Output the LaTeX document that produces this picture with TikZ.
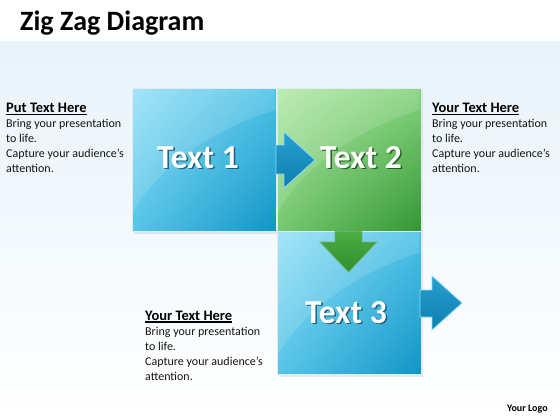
\documentclass[tikz,border=0pt]{standalone}
\usepackage{fontspec}
\setmainfont{Carlito}
\usetikzlibrary{shadings}
\definecolor{bgtop}{RGB}{232,243,250}
\definecolor{bUL}{RGB}{150,225,247}
\definecolor{bUR}{RGB}{75,192,230}
\definecolor{bLL}{RGB}{85,197,232}
\definecolor{bLR}{RGB}{18,148,198}
\definecolor{gUL}{RGB}{180,233,170}
\definecolor{gUR}{RGB}{130,210,122}
\definecolor{gLL}{RGB}{118,200,110}
\definecolor{gLR}{RGB}{50,150,50}
\definecolor{edge}{RGB}{225,236,240}
\definecolor{arBlueT}{RGB}{38,160,208}
\definecolor{arBlueB}{RGB}{14,126,176}
\definecolor{arGreenT}{RGB}{78,172,68}
\definecolor{arGreenB}{RGB}{48,142,44}
\definecolor{shblue}{RGB}{30,95,125}
\definecolor{shgreen}{RGB}{40,95,40}
\newcommand\shtext[2]{\makebox[0pt][l]{\hspace{1.5pt}\raisebox{-1.5pt}{\textcolor{#1}{#2}}}\textcolor{white}{#2}}
\tikzset{
  boxbase/.style={rectangle, anchor=north west, minimum width=144pt, minimum height=143pt, inner sep=0pt, draw=edge, line width=1.2pt},
  bluebox/.style={boxbase, shading=bilinear interpolation, upper left=bUL, upper right=bUR, lower left=bLL, lower right=bLR},
  greenbox/.style={boxbase, shading=bilinear interpolation, upper left=gUL, upper right=gUR, lower left=gLL, lower right=gLR},
  bigtxt/.style={font=\fontsize{33.5}{36}\selectfont\bfseries, inner sep=0pt},
  gloss/.style={fill=white, fill opacity=0.13},
  bluearrow/.style={top color=arBlueT, bottom color=arBlueB, draw=white!55!cyan, line width=0.8pt, line join=miter},
  greenarrow/.style={top color=arGreenT, bottom color=arGreenB, draw=white!60!green!70!black, line width=0.8pt},
  head/.style={font=\fontsize{14.5}{17}\selectfont\bfseries, anchor=base west, inner sep=0pt},
  body/.style={font=\fontsize{12}{14.9}\selectfont, align=left, anchor=north west, inner sep=0pt, text=black!92},
}
\begin{document}
\begin{tikzpicture}[x=1pt,y=-1pt]
\useasboundingbox (0,0) rectangle (560,420);
\fill[white] (0,0) rectangle (560,420);
\shade[top color=bgtop, bottom color=white] (0,42) rectangle (560,420);
% title
\node[font=\fontsize{28}{30}\selectfont\bfseries, anchor=base west, inner sep=0pt] (title) at (20,31) {Zig Zag Diagram};
% boxes
\fill[black, opacity=0.08] (134,90) rectangle (423,234);
\fill[black, opacity=0.08] (279,233) rectangle (423,377);
\node[bluebox] (b1) at (132,88) {};
\node[greenbox] (b2) at (277,88) {};
\node[bluebox] (b3) at (277,231) {};
% gloss
\fill[gloss] (132.6,88.6) -- (275.4,88.6) -- (275.4,110) .. controls (215,128) and (160,165) .. (132.6,212) -- cycle;
\fill[gloss] (277.6,88.6) -- (419.4,88.6) -- (419.4,110) .. controls (360,128) and (305,165) .. (277.6,212) -- cycle;
\fill[gloss] (277.6,231.6) -- (419.4,231.6) -- (419.4,253) .. controls (360,271) and (305,308) .. (277.6,355) -- cycle;
% arrows
\path[bluearrow] (276,145) -- (284,145) -- (284,132) -- (315,160) -- (284,188) -- (284,174) -- (276,174) -- cycle;
\path[greenarrow] (335,231.5) -- (362,231.5) -- (362,242) -- (377,242) -- (348.5,272) -- (320,242) -- (335,242) -- cycle;
\path[bluearrow] (420,290) -- (432,290) -- (432,276) -- (462,303) -- (432,330) -- (432,317) -- (420,317) -- cycle;
% big texts
\node[bigtxt] (t1) at (198,158) {\shtext{shblue}{Text 1}};
\node[bigtxt] (t2) at (361,158) {\shtext{shgreen}{Text 2}};
\node[bigtxt] (t3) at (346,313) {\shtext{shblue}{Text 3}};
% side texts
\node[head] (h1) at (6,112.5) {Put Text Here};
\draw[line width=1.1pt] ([yshift=-2pt]h1.base west) -- ([yshift=-2pt]h1.base east);
\node[body] (p1) at (6,119.5) {Bring your presentation\\to life.\\Capture your audience’s\\attention.};
\node[head] (h2) at (432,112.5) {Your Text Here};
\draw[line width=1.1pt] ([yshift=-2pt]h2.base west) -- ([yshift=-2pt]h2.base east);
\node[body] (p2) at (432,119.5) {Bring your presentation\\to life.\\Capture your audience’s\\attention.};
\node[head] (h3) at (145,320) {Your Text Here};
\draw[line width=1.1pt] ([yshift=-2pt]h3.base west) -- ([yshift=-2pt]h3.base east);
\node[body] (p3) at (145,327) {Bring your presentation\\to life.\\Capture your audience’s\\attention.};
% logo
\node[font=\fontsize{10}{12}\selectfont\bfseries, anchor=base west, inner sep=0pt] (logo) at (507,411) {Your Logo};
\end{tikzpicture}
\end{document}
